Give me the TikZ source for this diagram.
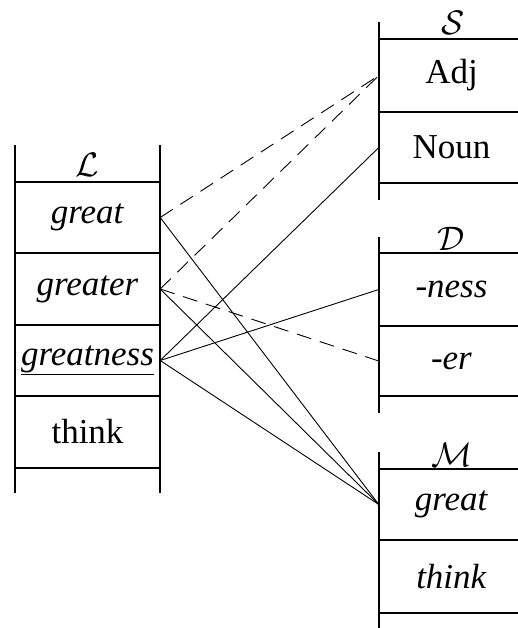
\documentclass[tikz,border=0pt]{standalone}
\usepackage{fontspec}
\setmainfont{Liberation Serif}
\usetikzlibrary{positioning}

\begin{document}
\begin{tikzpicture}[x=1pt, y=-1pt, font=\fontsize{35}{40}\selectfont,
	frame/.style={line width=1.6pt},
	cell/.style={minimum width=145pt, minimum height=71pt, inner sep=0pt},
	hd/.style={font=\normalsize, inner sep=0pt, anchor=base},
	ln/.style={line width=0.9pt},
	dl/.style={ln, dash pattern=on 15pt off 9pt}]
	\useasboundingbox (0,0) rectangle (518,628);
	% lexicon
	\draw[frame] (15,145) -- (15,493) (160,145) -- (160,493);
	\foreach \y in {182,253,325,396,468} \draw[frame] (15,\y) -- (160,\y);
	\node[hd] (Lh) at (87.5,177) {\scalebox{3.4}{$\mathcal{L}$}};
	\node[cell] (great) at (87.5,217.5) {\textit{great}};
	\node[cell] (greater) at (87.5,289) {\textit{greater}};
	\node[cell] (greatness) at (87.5,360.5) {\underline{\textit{greatness}}};
	\node[cell] (think) at (87.5,432) {think};
	% syntax
	\draw[frame] (379,22) -- (379,200);
	\foreach \y in {39,112,183} \draw[frame] (379,\y) -- (524,\y);
	\node[hd] (Sh) at (453,35) {\scalebox{3.4}{$\mathcal{S}$}};
	\node[cell] (adj) at (451.5,75.5) {Adj};
	\node[cell] (noun) at (451.5,147.5) {Noun};
	% derivation
	\draw[frame] (379,237) -- (379,413);
	\foreach \y in {253,326,396} \draw[frame] (379,\y) -- (524,\y);
	\node[hd] (Dh) at (451.5,250) {\scalebox{3.4}{$\mathcal{D}$}};
	\node[cell] (ness) at (451.5,289.5) {\textit{-ness}};
	\node[cell] (er) at (451.5,361) {\textit{-er}};
	% morphemes
	\draw[frame] (379,452) -- (379,640);
	\foreach \y in {469,540,613} \draw[frame] (379,\y) -- (524,\y);
	\node[hd] (Mh) at (451.5,466) {\scalebox{3.4}{$\mathcal{M}$}};
	\node[cell] (mgreat) at (451.5,504.5) {\textit{great}};
	\node[cell] (mthink) at (451.5,576.5) {\textit{think}};
	% links
	\draw[dl] (great.east) -- (adj.west);
	\draw[ln] (great.east) -- (mgreat.west);
	\draw[dl] (greater.east) -- (adj.west);
	\draw[dl] (greater.east) -- (er.west);
	\draw[ln] (greater.east) -- (mgreat.west);
	\draw[ln] (greatness.east) -- (noun.west);
	\draw[ln] (greatness.east) -- (ness.west);
	\draw[ln] (greatness.east) -- (mgreat.west);
\end{tikzpicture}
\end{document}
